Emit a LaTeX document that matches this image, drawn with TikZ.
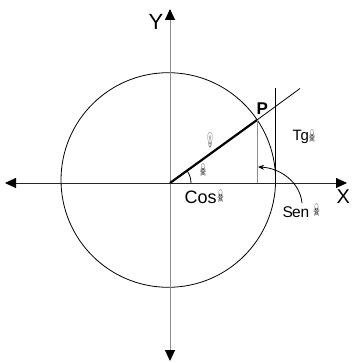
\documentclass[tikz,border=0pt]{standalone}
\usepackage{fontspec}
\setmainfont{Liberation Sans}
\newfontfamily\dejavu{DejaVu Sans}
\newfontfamily\emojifont{Noto Emoji}
\usetikzlibrary{arrows.meta}
\tikzset{
  axisline/.style={line width=1pt},
  txt/.style={inner sep=0pt, anchor=base west},
  glyph/.style={inner sep=0pt, anchor=center},
}
\newcommand{\skl}{{\dejavu\bfseries\fontsize{17}{17}\selectfont\scalebox{0.42}[1]{☠}}}
\begin{document}
\begin{tikzpicture}[x=1pt,y=-1pt]
\useasboundingbox (0,0) rectangle (351,363);
% coordinates
\coordinate (O) at (170,183);
\coordinate (L) at (5,183);
\coordinate (R) at (347,183);
\coordinate (B) at (170,361);
\coordinate (T) at (170,9);
\coordinate (C) at (168.3,180);
\coordinate (P) at (257,120);
\coordinate (Pend) at (300,88.5);
\coordinate (Ps) at (257,183);
\coordinate (Tt) at (275.7,88);
\coordinate (Tb) at (275.7,183);
\coordinate (As) at (191,183);
\coordinate (Cs) at (302,203);
\coordinate (Ce) at (258,167);
% circle
\draw[line width=0.8pt] (C) circle[radius=107.3];
% axes
\draw[axisline, black!85, {Triangle[length=11pt,width=10pt,color=black]}-{Triangle[length=11pt,width=10pt,color=black]}] (L) -- (R);
\draw[axisline, black!45, {Triangle[length=11pt,width=10pt,color=black]}-{Triangle[length=11pt,width=10pt,color=black]}] (B) -- (T);
% radius and extension
\draw[line width=2.2pt] (O) -- (P);
\draw[line width=0.8pt] (P) -- (Pend);
% sine line
\draw[line width=1pt, black!45] (P) -- (Ps);
% tangent line
\draw[line width=1.1pt] (Tt) -- (Tb);
% angle arc
\draw[line width=0.8pt] (As) arc[start angle=0, end angle=-36, radius=21];
% curved arrow
\draw[line width=0.8pt, -{Stealth[length=6pt,width=5pt]}] (Cs) .. controls (300,182) and (280,168) .. (Ce);
% labels
\node[txt, font=\fontsize{22}{22}\selectfont] (ylab) at (148.5,29.5) {Y};
\node[txt, font=\fontsize{20}{20}\selectfont] (xlab) at (336.5,203) {X};
\node[txt, font=\fontsize{17}{17}\selectfont\bfseries] (plab) at (256.5,115) {P};
\node[txt, font=\fontsize{15}{15}\selectfont] (tglab) at (292.5,140.5) {T\kern-1.2pt g};
\node[txt, font=\fontsize{18}{18}\selectfont] (coslab) at (184.5,203) {Cos};
\node[txt, font=\fontsize{15.5}{15.5}\selectfont] (senlab) at (282.5,217) {S\kern-1pt en};
\node[glyph] (sk1) at (203,170) {\skl};
\node[glyph] (sk2) at (220.5,196) {\skl};
\node[glyph] (sk3) at (312,136.5) {\skl};
\node[glyph] (sk4) at (316.5,210.5) {\skl};
\node[glyph, text=black!55] (bulb) at (210,140) {\emojifont\fontsize{15}{15}\selectfont\scalebox{0.55}[1]{💡}};
\end{tikzpicture}
\end{document}
